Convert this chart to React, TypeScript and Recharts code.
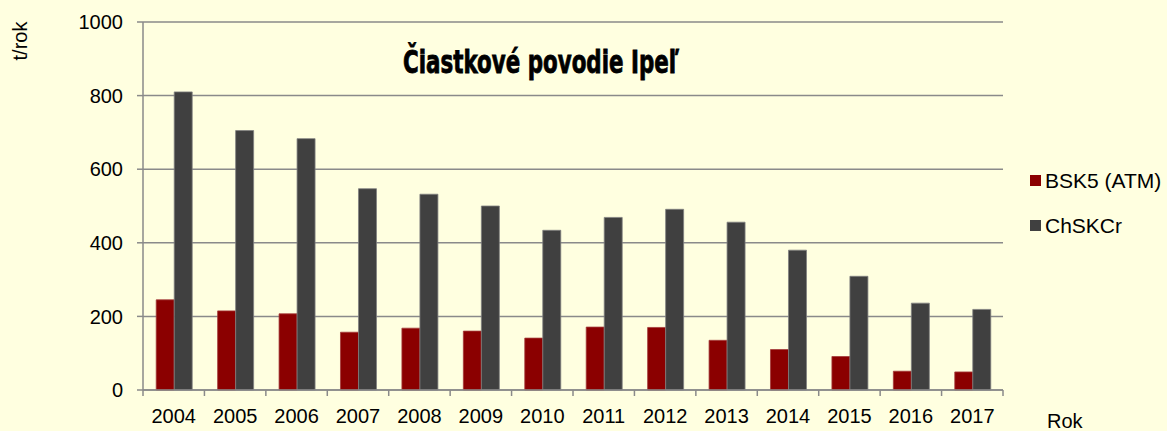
import React from 'react';
import { BarChart, Bar, XAxis, YAxis, CartesianGrid } from 'recharts';

const years = ['2004','2005','2006','2007','2008','2009','2010','2011','2012','2013','2014','2015','2016','2017'];
const bsk5 = [245, 215, 207, 157, 168, 160, 141, 171, 170, 135, 110, 91, 51, 49];
const chskcr = [810, 705, 683, 547, 532, 500, 434, 469, 491, 456, 380, 309, 236, 219];
const yTicks = [0, 200, 400, 600, 800, 1000];
const seriesNames = ['BSK5 (ATM)', 'ChSKCr'];
const seriesColors = ['#8B0000', '#404040'];
const title = 'Čiastkové povodie Ipeľ';
const yLabel = 't/rok';
const xLabel = 'Rok';

const data = years.map((y, i) => ({ year: y, bsk5: bsk5[i], chskcr: chskcr[i] }));

const W = 1167;
const H = 431;
const margin = { top: 22, right: 164, left: 0, bottom: 11 };
const yAxisWidth = 143;
const plotW = W - margin.left - margin.right - yAxisWidth;
const step = plotW / years.length;
const FONT = "'Liberation Sans', Arial, sans-serif";
const GRID = '#8a8a8a';

const XTick = (props: any) => {
  const { x, y, payload, index } = props;
  const last = index === years.length - 1;
  return (
    <g>
      <line x1={x - step / 2} x2={x - step / 2} y1={y} y2={y + 6} stroke={GRID} strokeWidth={1.5} />
      {last && <line x1={x + step / 2} x2={x + step / 2} y1={y} y2={y + 6} stroke={GRID} strokeWidth={1.5} />}
      <text x={x} y={y + 33} textAnchor="middle" fontSize={20} fontFamily={FONT} fill="#000">{payload.value}</text>
    </g>
  );
};

export default function App() {
  return (
    <div style={{ position: 'absolute', left: 0, top: 0, width: W, height: H, background: '#FFFFE0', overflow: 'hidden' }}>
      <BarChart width={W} height={H} data={data} margin={margin} barGap={0} barCategoryGap="21.5%">
        <CartesianGrid vertical={false} stroke={GRID} strokeWidth={1.5} />
        <XAxis dataKey="year" height={30} tickLine={false} tickSize={0} tickMargin={0}
          axisLine={{ stroke: GRID, strokeWidth: 1.5 }} tick={<XTick />} interval={0} />
        <YAxis width={yAxisWidth} domain={[0, 1000]} ticks={yTicks} interval={0}
          axisLine={{ stroke: GRID, strokeWidth: 1.5 }} tickLine={{ stroke: GRID, strokeWidth: 1.5 }}
          tickSize={6} tickMargin={14}
          tick={{ fontSize: 20, fontFamily: FONT, fill: '#000' }} />
        <Bar dataKey="bsk5" name={seriesNames[0]} fill={seriesColors[0]} stroke="#a33a3a" strokeWidth={0.8} isAnimationActive={false} />
        <Bar dataKey="chskcr" name={seriesNames[1]} fill={seriesColors[1]} stroke="#808080" strokeWidth={0.8} isAnimationActive={false} />
      </BarChart>
      <svg width={W} height={H} style={{ position: 'absolute', left: 0, top: 0, pointerEvents: 'none' }}>
        <text x={541} y={73} textAnchor="middle" fontSize={32} fontWeight="bold"
          fontFamily="'Liberation Sans Narrow', 'DejaVu Sans Condensed', sans-serif"
          textLength={276} lengthAdjust="spacingAndGlyphs" stroke="#000" strokeWidth={0.8} fill="#000">{title}</text>
        <text transform="translate(27,41) rotate(-90)" textAnchor="middle" fontSize={20} fontFamily={FONT} fill="#000">{yLabel}</text>
        <text x={1047} y={428} fontSize={20} fontFamily={FONT} fill="#000">{xLabel}</text>
        {seriesNames.map((n, i) => (
          <g key={n}>
            <rect x={1030} y={175 + i * 45} width={11} height={11} fill={seriesColors[i]} />
            <text x={1045} y={188 + i * 45} fontSize={21} fontFamily={FONT} fill="#000">{n}</text>
          </g>
        ))}
      </svg>
    </div>
  );
}
